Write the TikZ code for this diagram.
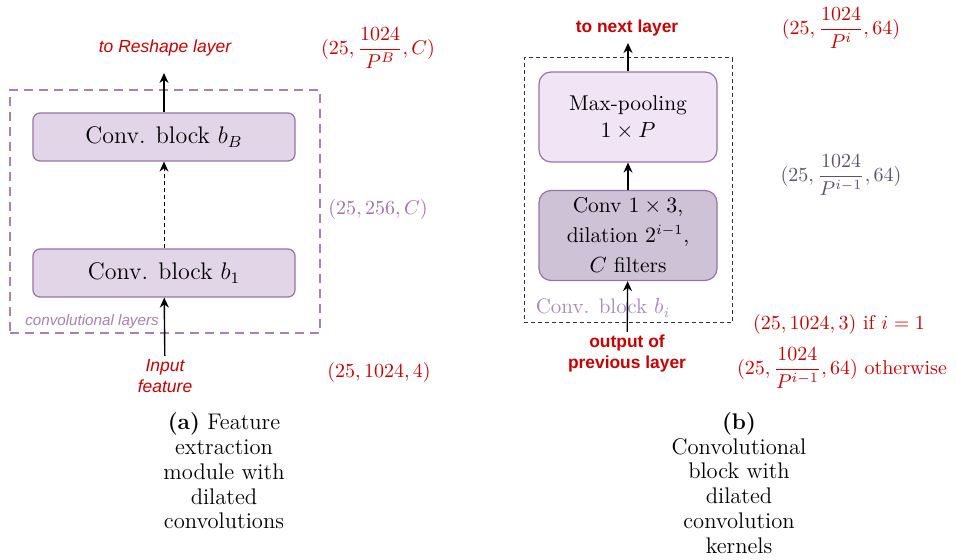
\documentclass[tikz,border=0pt]{standalone}
\usepackage{amsmath}
\usepackage{fontspec}
\newfontfamily\drawiofont{Liberation Sans}
\usetikzlibrary{arrows.meta}

\definecolor{lblred}{HTML}{CC0000}
\definecolor{blockfill}{HTML}{E1D5E7}
\definecolor{blockline}{HTML}{9673A6}
\definecolor{poolfill}{HTML}{F0E4F5}
\definecolor{convfill}{HTML}{CDC2D6}
\definecolor{dimpink}{HTML}{A86FAE}
\definecolor{dimgray}{HTML}{5E5070}
\definecolor{blocklbl}{HTML}{A98BC4}
\definecolor{layerlbl}{HTML}{A680B8}

\begin{document}
\begin{tikzpicture}[x=0.5pt,y=0.5pt,yscale=-1,xscale=1,
  blockbox/.style={draw=blockline, line width=0.6pt, rounded corners=3.5pt, fill=blockfill,
    minimum width=131pt, minimum height=24pt, font=\fontsize{12}{14}\selectfont},
  stagebox/.style={draw=blockline, line width=0.6pt, rounded corners=6pt, align=center,
    minimum width=89pt, minimum height=45pt},
  flow/.style={-{Stealth[length=5pt,width=4.5pt]}, line width=0.7pt},
  sanslbl/.style={text=lblred, align=center, inner sep=1.5pt},
  dimlbl/.style={text=lblred, font=\fontsize{10}{12}\selectfont},
  captxt/.style={align=center, font=\fontsize{11.3}{12.4}\selectfont}]
\useasboundingbox (0,0) rectangle (956,560);

% (a) feature extraction module
\node [draw=layerlbl, line width=1pt, dash pattern={on 4.5pt off 3pt}, minimum width=155pt, minimum height=121.5pt] (convlayers) at (165,211.5) {};
\node [text=layerlbl, font=\drawiofont\itshape\fontsize{7.6}{9}\selectfont] (convlayerslbl) at (92,322) {convolutional layers};
\node [blockbox] (bB) at (164,137) {Conv. block $b_B$};
\node [blockbox] (b1) at (164,273) {Conv. block $b_1$};
\node [sanslbl, font=\drawiofont\itshape\fontsize{8.75}{10.5}\selectfont] (toreshape) at (165,48) {to Reshape layer};
\node [sanslbl, font=\drawiofont\itshape\fontsize{8.75}{10.5}\selectfont] (inputA) at (165,376) {Input\\feature};
\coordinate (outA) at (164,73);
\draw [flow] (bB) -- (outA);
\draw [flow, line width=0.5pt, dash pattern={on 2pt off 1.5pt}] (b1) -- (bB);
\draw [flow] (inputA) -- (b1);
\node [dimlbl] (dimAout) at (378,48) {$(25, \dfrac{1024}{P^B}, C)$};
\node [dimlbl, text=dimpink] (dimAmid) at (378,210) {$(25, 256, C)$};
\node [dimlbl] (dimAin) at (379,373) {$(25, 1024, 4)$};
\node [captxt] (capA) at (224,471) {\textbf{(a)} Feature\\extraction\\module with\\dilated\\convolutions};

% (b) convolutional block
\node [draw=black!80, line width=0.5pt, dash pattern={on 2pt off 1.5pt}, minimum width=104pt, minimum height=132.5pt] (blockframe) at (628,190.5) {};
\node [text=blocklbl, font=\fontsize{10.5}{12.5}\selectfont] (blocklbl) at (603,308) {Conv. block $b_i$};
\node [stagebox, fill=poolfill, font=\fontsize{10.7}{13.5}\selectfont] (pool) at (628,117) {Max-pooling\\$1\times P$};
\node [stagebox, fill=convfill, font=\fontsize{10.7}{15}\selectfont] (conv) at (628,235.5) {Conv $1\times 3$,\\dilation $2^{i-1}$,\\$C$ filters};
\node [sanslbl, font=\drawiofont\bfseries\fontsize{8.7}{10.5}\selectfont] (tonext) at (627,28) {to next layer};
\node [sanslbl, font=\drawiofont\bfseries\fontsize{8.7}{10.5}\selectfont] (prevout) at (627,354) {output of\\previous layer};
\coordinate (outB) at (628,43);
\draw [flow] (pool) -- (outB);
\draw [flow] (conv) -- (pool);
\draw [flow] (prevout) -- (conv);
\node [dimlbl] (dimBout) at (841,28) {$(25, \dfrac{1024}{P^i}, 64)$};
\node [dimlbl, text=dimgray] (dimBmid) at (841,175) {$(25, \dfrac{1024}{P^{i-1}}, 64)$};
\node [dimlbl] (dimBfirst) at (839,324) {$(25, 1024, 3)$ if $i = 1$};
\node [dimlbl] (dimBother) at (842,368) {$(25, \dfrac{1024}{P^{i-1}}, 64)$ otherwise};
\node [captxt] (capB) at (739,483) {\textbf{(b)}\\Convolutional\\block with\\dilated\\convolution\\kernels};
\end{tikzpicture}
\end{document}
